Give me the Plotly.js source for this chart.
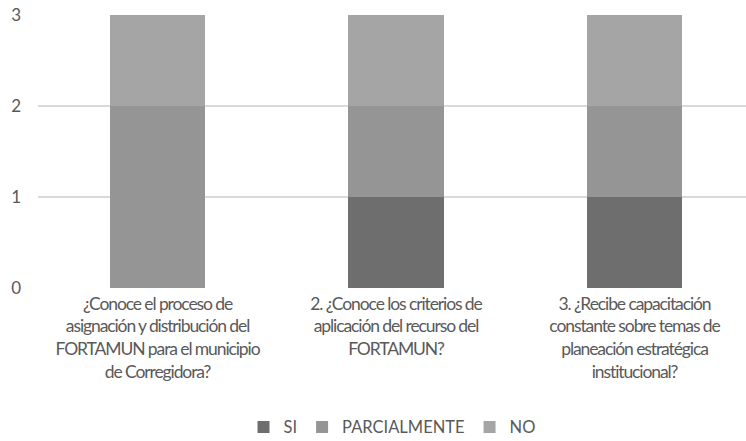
<!DOCTYPE html>
<html>
<head>
<meta charset="utf-8">
<script src="https://cdn.plot.ly/plotly-3.0.1.min.js"></script>
<style>
html,body{margin:0;padding:0;background:#fff;}
#chart{width:746px;height:441px;}
#chart .xtick text{letter-spacing:-1.1px;}
</style>
</head>
<body>
<div id="chart"></div>
<script>
const categories = [
  "¿Conoce el proceso de<br>asignación y distribución del<br>FORTAMUN para el municipio<br>de Corregidora?",
  "2. ¿Conoce los criterios de<br>aplicación del recurso del<br>FORTAMUN?",
  "3. ¿Recibe capacitación<br>constante sobre temas de<br>planeación estratégica<br>institucional?"
];
const si = [0, 1, 1];
const parcialmente = [2, 1, 1];
const no = [1, 1, 1];
const yTicks = [0, 1, 2, 3];

const traces = [
  {type: 'bar', name: 'SI', x: categories, y: si, marker: {color: '#6e6e6e'}},
  {type: 'bar', name: 'PARCIALMENTE', x: categories, y: parcialmente, marker: {color: '#959595'}},
  {type: 'bar', name: 'NO', x: categories, y: no, marker: {color: '#a5a5a5'}}
];

const fam = 'Lato, "Open Sans", sans-serif';

const layout = {
  width: 746, height: 441,
  margin: {l: 38, r: 0, t: 15, b: 153, autoexpand: false},
  paper_bgcolor: '#fff', plot_bgcolor: '#fff',
  barmode: 'stack', bargap: 0.6,
  font: {family: fam, color: '#595959', size: 16},
  showlegend: true,
  legend: {orientation: 'h', x: 0.5, xanchor: 'center', y: -0.51, yanchor: 'middle', traceorder: 'normal', itemwidth: 30, tracegroupgap: 0, font: {family: fam, size: 16.5, color: '#595959'}},
  xaxis: {type: 'category', range: [-0.501, 2.4675], automargin: false, showgrid: false, zeroline: false, showline: false, ticks: '', ticklabelstandoff: 3, tickfont: {family: fam, size: 17.5, color: '#595959'}, fixedrange: true},
  yaxis: {range: [0, 3], automargin: false, tickvals: yTicks, ticktext: yTicks.map(String), showgrid: true, gridcolor: '#d9d9d9', gridwidth: 1.5, zeroline: false, showline: false, ticks: '', ticklabelstandoff: 16, tickfont: {family: fam, size: 17, color: '#595959'}, fixedrange: true}
};

Plotly.newPlot('chart', traces, layout, {displayModeBar: false, staticPlot: true});
</script>
</body>
</html>
